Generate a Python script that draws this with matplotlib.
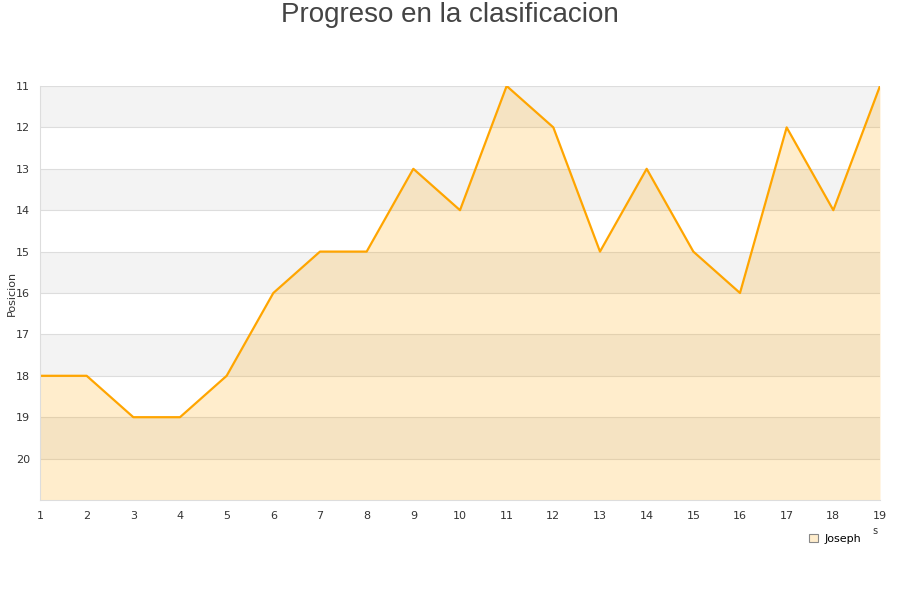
import matplotlib
matplotlib.use("Agg")
import matplotlib.pyplot as plt
from matplotlib.patches import Patch

jornadas = list(range(1, 20))
posicion = [18, 18, 19, 19, 18, 16, 15, 15, 13, 14, 11, 12, 15, 13, 15, 16, 12, 14, 11]
y_ticks = list(range(11, 21))
line_color = "#ffa500"

fig = plt.figure(figsize=(9, 6), dpi=100)
ax = fig.add_axes([40 / 900, 100 / 600, 840 / 900, 414 / 600])

# alternating horizontal bands
for y0 in range(11, 21, 2):
    ax.axhspan(y0, y0 + 1, color="#f3f3f3", zorder=0, lw=0)
for y in range(11, 21):
    ax.axhline(y, color="#dddddd", lw=0.8, zorder=0.5)

ax.fill_between(jornadas, posicion, 21, color=line_color, alpha=0.2, lw=0, zorder=1)
ax.plot(jornadas, posicion, color=line_color, lw=1.6, zorder=2)

ax.set_xlim(1, 19)
ax.set_ylim(21, 11)
ax.set_xticks(jornadas)
ax.set_yticks(y_ticks)
ax.tick_params(length=0, labelsize=8, colors="#333333", pad=8)
ax.tick_params(axis="y", pad=7)
for side in ("top", "right"):
    ax.spines[side].set_visible(False)
for side in ("left", "bottom"):
    ax.spines[side].set_color("#dddddd")
ax.set_ylabel("Posicion", fontsize=8, color="#333333")
ax.yaxis.set_label_coords(-0.028, 0.5)

fig.text(0.5, 1 - 15 / 600, "Progreso en la clasificacion", ha="center", va="center",
         fontsize=20, color="#444444", family="Liberation Sans")
fig.text(875 / 900, 1 - 531 / 600, "s", ha="center", va="center", fontsize=7, color="#333333")

leg = fig.legend(handles=[Patch(facecolor="#ffedcc", edgecolor="#888888", lw=0.8)],
                 labels=["Joseph"], loc="center", bbox_to_anchor=(835 / 900, 1 - 539 / 600),
                 frameon=False, fontsize=8, handlelength=0.8, handleheight=0.8,
                 handletextpad=0.6)

fig.savefig("out.png", dpi=100)
